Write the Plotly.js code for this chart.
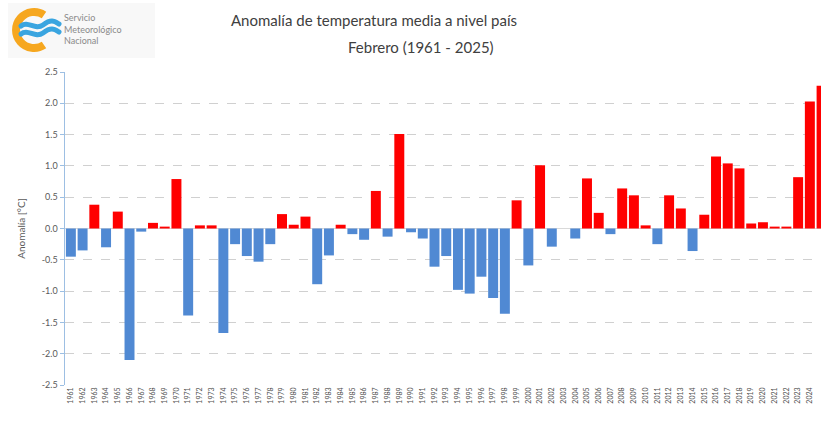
<!DOCTYPE html>
<html>
<head>
<meta charset="utf-8">
<script src="https://cdn.plot.ly/plotly-3.0.1.min.js"></script>
<style>
html,body{margin:0;padding:0;background:#fff;overflow:hidden;}
#chart{width:821px;height:423px;}
</style>
</head>
<body>
<div id="chart"></div>
<script>
// ---- Data ----
const years = [1961,1962,1963,1964,1965,1966,1967,1968,1969,1970,
  1971,1972,1973,1974,1975,1976,1977,1978,1979,1980,
  1981,1982,1983,1984,1985,1986,1987,1988,1989,1990,
  1991,1992,1993,1994,1995,1996,1997,1998,1999,2000,
  2001,2002,2003,2004,2005,2006,2007,2008,2009,2010,
  2011,2012,2013,2014,2015,2016,2017,2018,2019,2020,
  2021,2022,2023,2024,2025];
const anomalies = [-0.45,-0.35,0.38,-0.30,0.27,-2.10,-0.05,0.09,0.03,0.79,
  -1.39,0.05,0.05,-1.67,-0.25,-0.44,-0.53,-0.25,0.23,0.06,
  0.19,-0.89,-0.43,0.06,-0.09,-0.18,0.60,-0.13,1.51,-0.06,
  -0.16,-0.61,-0.44,-0.98,-1.04,-0.77,-1.11,-1.36,0.45,-0.59,
  1.01,-0.29,0.00,-0.16,0.80,0.25,-0.09,0.64,0.53,0.05,
  -0.25,0.53,0.32,-0.36,0.22,1.15,1.04,0.96,0.08,0.10,
  0.03,0.03,0.82,2.03,2.28];
const yTicks = [-2.5,-2.0,-1.5,-1.0,-0.5,0.0,0.5,1.0,1.5,2.0,2.5];
const titleLine1 = "Anomalía de temperatura media a nivel país";
const titleLine2 = "Febrero (1961 - 2025)";
const yTitle = "Anomalía [°C]";
const logoLines = ["Servicio","Meteorológico","Nacional"];

// ---- Layout geometry ----
const W = 821, H = 423, ML = 65, MR = 0, MT = 72, MB = 38;
const PW = W - ML - MR, PH = H - MT - MB;
const px = x => (x - ML) / PW;
const py = y => (H - MB - y) / PH;

const RED = "#ff0000", BLUE = "#5089d3";
const colors = anomalies.map(v => v > 0 ? RED : BLUE);

const trace = {
  type: "bar",
  x: years,
  y: anomalies,
  width: 0.85,
  marker: {color: colors, line: {width: 0}},
  hoverinfo: "x+y"
};

// logo graphic (decoration only)
const logoSvg =
 '<svg xmlns="http://www.w3.org/2000/svg" width="62" height="56" viewBox="0 0 62 56">' +
 '<path d="M 40 13 A 18 18 0 1 0 40 43" fill="none" stroke="#f6a71f" stroke-width="8"/>' +
 '<path d="M 17 24 C 24 18, 31 29, 39 23 S 50 19, 55 22" fill="none" stroke="#3aa5e0" stroke-width="5" stroke-linecap="round"/>' +
 '<path d="M 17 32 C 24 26, 31 37, 39 31 S 50 27, 55 30" fill="none" stroke="#3aa5e0" stroke-width="5" stroke-linecap="round"/>' +
 '</svg>';

const font = "Lato, 'Open Sans', sans-serif";

const layout = {
  width: W, height: H,
  margin: {l: ML, r: MR, t: MT, b: MB, pad: 0},
  paper_bgcolor: "#ffffff",
  plot_bgcolor: "#ffffff",
  showlegend: false,
  bargap: 0.15,
  font: {family: font, color: "#595959"},
  xaxis: {
    type: "linear",
    range: [1960.5, 2024.95],
    tickmode: "array",
    tickvals: years,
    ticktext: years.map(String),
    tickangle: -90,
    tickfont: {size: 7, color: "#505050", family: font},
    showgrid: false,
    zeroline: false,
    showline: false,
    ticks: "",
    fixedrange: true,
    automargin: false
  },
  yaxis: {
    range: [-2.5, 2.5],
    tickmode: "array",
    tickvals: yTicks,
    ticktext: yTicks.map(v => v.toFixed(1)),
    tickfont: {size: 9, color: "#595959", family: font},
    showgrid: true,
    gridcolor: "#d0d0d0",
    griddash: "dash",
    gridwidth: 1,
    zeroline: true,
    zerolinecolor: "#d9d9d9",
    zerolinewidth: 1,
    showline: true,
    linecolor: "#9dbfe3",
    linewidth: 1.5,
    ticks: "outside",
    ticklen: 4,
    tickcolor: "#9dbfe3",
    title: {text: yTitle, font: {size: 10, color: "#595959", family: font}, standoff: 14},
    fixedrange: true,
    automargin: false
  },
  shapes: [
    {type: "rect", xref: "paper", yref: "paper",
     x0: px(8), x1: px(155), y0: py(58), y1: py(3),
     fillcolor: "#f8f8f8", line: {width: 0}, layer: "below"}
  ],
  images: [
    {source: "data:image/svg+xml;charset=utf-8," + encodeURIComponent(logoSvg),
     xref: "paper", yref: "paper",
     x: px(4), y: py(2), sizex: 62 / PW, sizey: 56 / PH,
     xanchor: "left", yanchor: "top", sizing: "stretch", layer: "above"}
  ],
  annotations: [
    {text: titleLine1, xref: "paper", yref: "paper", x: px(374), y: py(20),
     xanchor: "center", yanchor: "middle", showarrow: false,
     font: {size: 15, color: "#404040", family: font}},
    {text: titleLine2, xref: "paper", yref: "paper", x: px(421), y: py(47),
     xanchor: "center", yanchor: "middle", showarrow: false,
     font: {size: 15, color: "#404040", family: font}}
  ].concat(logoLines.map((t, i) => ({
     text: t, xref: "paper", yref: "paper", x: px(62), y: py(17 + i * 12),
     xanchor: "left", yanchor: "middle", showarrow: false,
     font: {size: 9, color: "#8a8a8a", family: font}
  })))
};

Plotly.newPlot("chart", [trace], layout, {displayModeBar: false, staticPlot: true});
</script>
</body>
</html>
